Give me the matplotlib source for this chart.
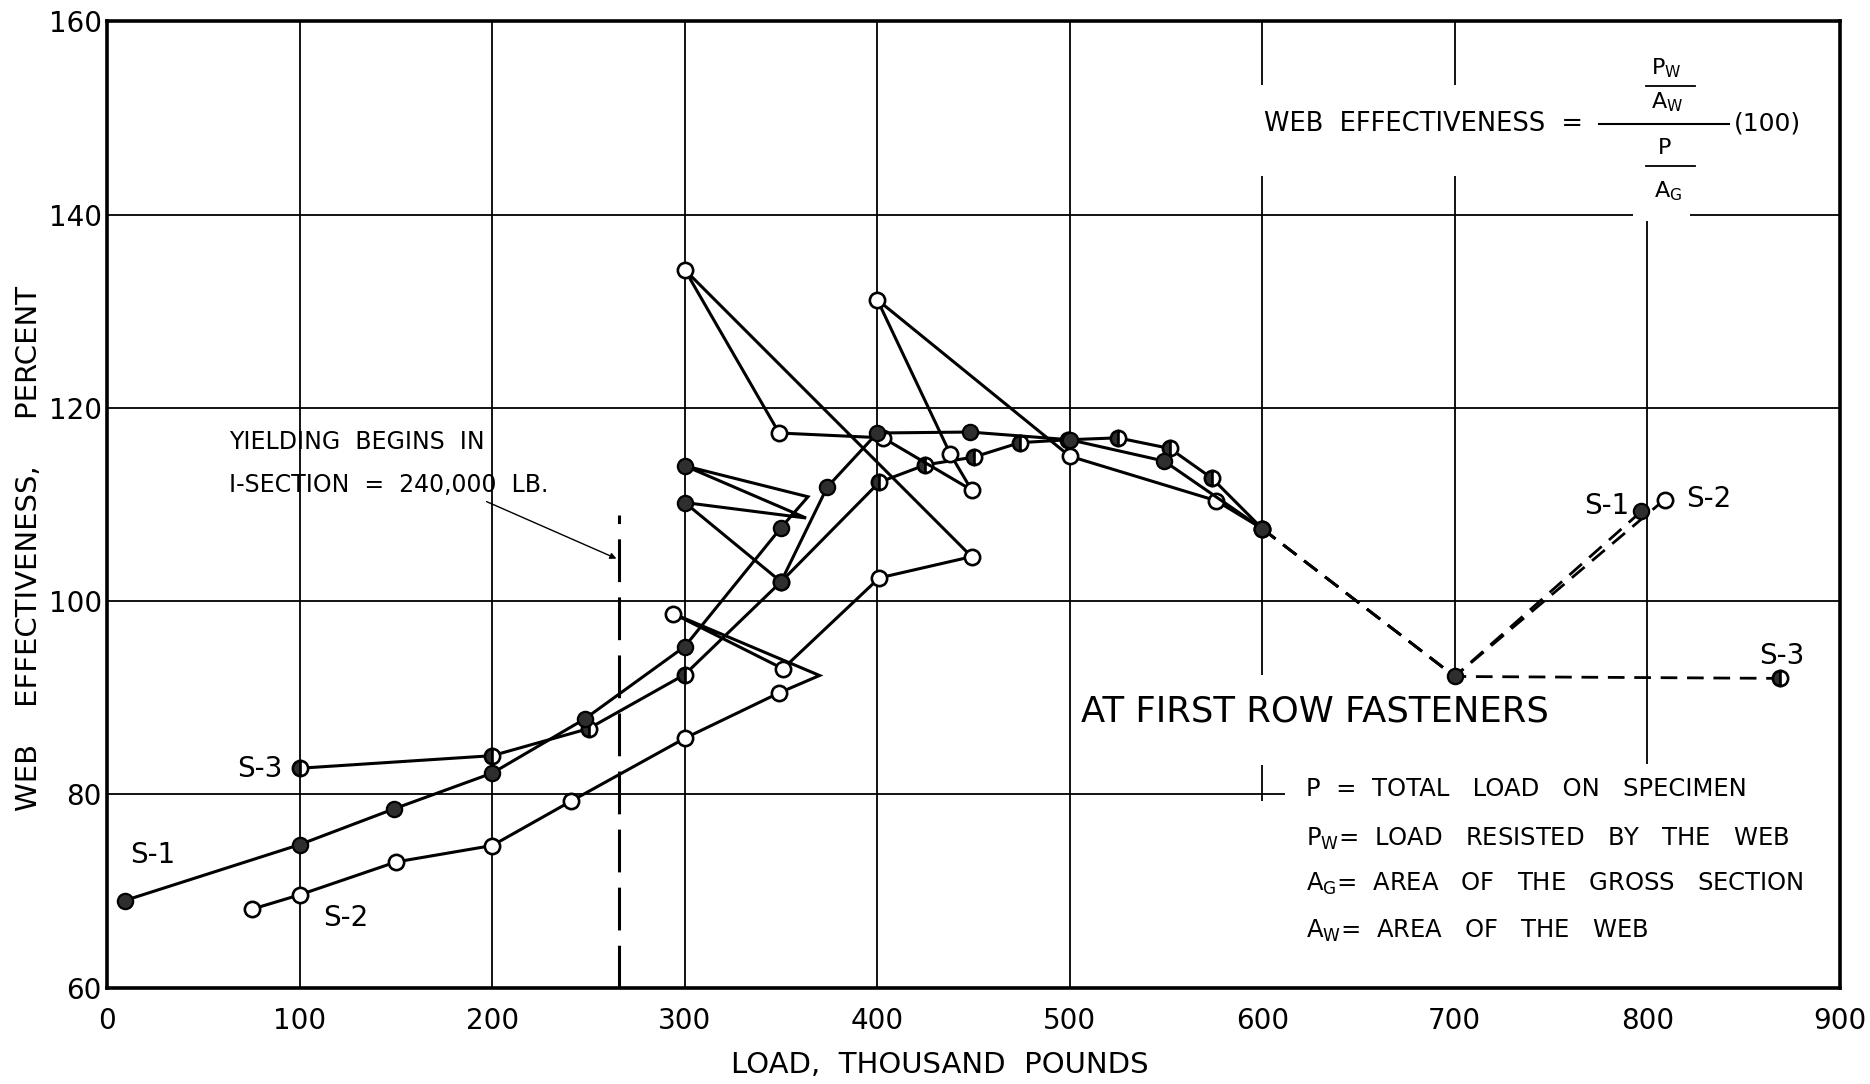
import matplotlib
matplotlib.use("Agg")
import matplotlib.pyplot as plt
from matplotlib.patches import Rectangle

plt.rcParams['font.family'] = ['DejaVu Sans']
plt.rcParams['mathtext.fontset'] = 'dejavusans'

# Specimen S-1 (solid markers); 0 in *_mark means a bend in the line without a marker
s1_load = [9, 100, 149, 200, 248, 300, 350, 364, 300, 363, 300, 350, 374, 400, 448, 500, 549, 600]
s1_eff = [69.0, 74.8, 78.5, 82.2, 87.8, 95.3, 107.6, 110.8, 114.0, 108.6, 110.2, 102.0, 111.8,
          117.4, 117.5, 116.7, 114.5, 107.5]
s1_mark = [1, 1, 1, 1, 1, 1, 1, 0, 1, 0, 1, 1, 1, 1, 1, 1, 1, 1]
s1_ext_load = [600, 700, 797]
s1_ext_eff = [107.5, 92.2, 109.3]

# Specimen S-2 (open markers)
s2_load = [75, 100, 150, 200, 241, 300, 349, 370, 294, 351, 401, 449, 300, 349, 403, 449, 438,
           400, 500, 576, 600]
s2_eff = [68.1, 69.6, 73.0, 74.7, 79.3, 85.8, 90.5, 92.3, 98.7, 93.0, 102.4, 104.6, 134.3, 117.4,
          116.9, 111.5, 115.2, 131.2, 115.0, 110.4, 107.5]
s2_mark = [1, 1, 1, 1, 1, 1, 1, 0, 1, 1, 1, 1, 1, 1, 1, 1, 1, 1, 1, 1, 1]
s2_ext_load = [600, 700, 809]
s2_ext_eff = [107.5, 92.2, 110.5]

# Specimen S-3 (half-filled markers)
s3_load = [100, 200, 250, 300, 350, 401, 425, 450, 474, 499, 525, 552, 574, 600]
s3_eff = [82.7, 84.0, 86.8, 92.4, 102.0, 112.3, 114.1, 114.9, 116.4, 116.7, 116.9, 115.8, 112.7, 107.5]
s3_mark = [1] * len(s3_load)
s3_ext_load = [600, 700, 869]
s3_ext_eff = [107.5, 92.2, 92.0]

yield_load = 266          # dashed marker line for start of yielding
yield_top = 108.9

x_ticks = [0, 100, 200, 300, 400, 500, 600, 700, 800, 900]
y_ticks = [60, 80, 100, 120, 140, 160]

fig = plt.figure(figsize=(18.7, 10.84), dpi=100)
ax = fig.add_axes([0.0574, 0.0890, 0.9264, 0.8912])
ax.set_xlim(0, 900)
ax.set_ylim(60, 160)
ax.set_xticks(x_ticks)
ax.set_yticks(y_ticks)
ax.tick_params(length=0, labelsize=20)
ax.tick_params(axis='x', pad=14)
ax.tick_params(axis='y', pad=4)
ax.grid(True, color='black', lw=1.3, zorder=1)
for sp in ax.spines.values():
    sp.set_linewidth(2.6)
    sp.set_zorder(20)

ax.set_xlabel('LOAD,  THOUSAND  POUNDS', fontsize=21)
ax.xaxis.set_label_coords(0.4807, -0.066)
ax.text(-0.045, 0.454, 'WEB    EFFECTIVENESS,     PERCENT', transform=ax.transAxes,
        rotation=90, ha='center', va='center', fontsize=21)

LW = 2.2
DASH = (0, (6, 3.5))
filled = dict(marker='o', ms=11, mfc='#2e2e2e', mec='black', mew=1.6)
opened = dict(marker='o', ms=11, mfc='white', mec='black', mew=1.9)
halved = dict(marker='o', ms=11, mfc='#2e2e2e', mfcalt='white', fillstyle='left',
              mec='black', mew=1.9)


def draw(load, eff, mark, ext_load, ext_eff, style, z):
    ax.plot(load, eff, color='black', lw=LW, zorder=z, solid_joinstyle='miter')
    ax.plot(ext_load, ext_eff, color='black', lw=2.0, linestyle=DASH, zorder=z)
    ml = [a for a, m in zip(load, mark) if m]
    me = [b for b, m in zip(eff, mark) if m]
    ax.plot(ml, me, linestyle='none', zorder=z + 0.5, **style)
    ax.plot(ext_load[-1:], ext_eff[-1:], linestyle='none', zorder=z + 0.5, **style)


draw(s3_load, s3_eff, s3_mark, s3_ext_load, s3_ext_eff, halved, 5)
draw(s2_load, s2_eff, s2_mark, s2_ext_load, s2_ext_eff, opened, 7)
draw(s1_load, s1_eff, s1_mark, s1_ext_load, s1_ext_eff, filled, 9)
ax.plot(s1_ext_load[1:2], s1_ext_eff[1:2], linestyle='none', zorder=9.5, **filled)

# yielding line and note
ax.plot([yield_load, yield_load], [60, yield_top], color='black', lw=2.2,
        linestyle=(0, (14, 5)), zorder=4)
ax.text(63, 116.5, 'YIELDING  BEGINS  IN', fontsize=17, va='center', ha='left')
ax.text(63, 112.0, 'I-SECTION  =  240,000  LB.', fontsize=17, va='center', ha='left')
ax.annotate('', xy=(264.5, 104.4), xytext=(197, 110.3),
            arrowprops=dict(arrowstyle='-|>', lw=1.0, color='black', mutation_scale=9,
                            shrinkA=0, shrinkB=0))

# specimen labels
for txt, x, y in [('S-1', 23.5, 73.7), ('S-2', 124, 67.2), ('S-3', 79, 82.6),
                  ('S-1', 779, 109.8), ('S-2', 832, 110.6), ('S-3', 870, 94.3)]:
    ax.text(x, y, txt, fontsize=20, ha='center', va='center', zorder=12)

# formula block (white ground hides the grid behind it)
ax.add_patch(Rectangle((597, 144.0), 287, 9.4, facecolor='white', edgecolor='none', zorder=3))
ax.add_patch(Rectangle((792.5, 139.3), 29.5, 20.7, facecolor='white', edgecolor='none', zorder=3))
ax.text(601, 149.4, 'WEB  EFFECTIVENESS  =', fontsize=18.5, ha='left', va='center', zorder=6)
ax.plot([775, 842.5], [149.4, 149.4], color='black', lw=1.5, zorder=6)
ax.text(845, 149.4, '(100)', fontsize=18, ha='left', va='center', zorder=6)
ax.text(810, 155.2, r'P$_\mathregular{W}$', fontsize=16, ha='center', va='center', zorder=6)
ax.plot([799.5, 825], [153.3, 153.3], color='black', lw=1.3, zorder=6)
ax.text(810.5, 151.6, r'A$_\mathregular{W}$', fontsize=16, ha='center', va='center', zorder=6)
ax.text(809, 146.9, 'P', fontsize=16, ha='center', va='center', zorder=6)
ax.plot([799.5, 825], [145.0, 145.0], color='black', lw=1.3, zorder=6)
ax.text(811, 142.4, r'A$_\mathregular{G}$', fontsize=16, ha='center', va='center', zorder=6)

# title inside the plot and symbol legend, each on a white ground
ax.add_patch(Rectangle((503, 83.0), 249, 9.3, facecolor='white', edgecolor='none', zorder=3))
ax.text(506, 88.6, 'AT FIRST ROW FASTENERS', fontsize=25.5, ha='left', va='center', zorder=6)
ax.add_patch(Rectangle((598, 60), 302, 19.3, facecolor='white', edgecolor='none', zorder=3))
ax.add_patch(Rectangle((612, 79.2), 288, 3.9, facecolor='white', edgecolor='none', zorder=3))
legend_lines = [
    (80.5, 'P  =  TOTAL   LOAD   ON   SPECIMEN'),
    (75.4, r'P$_\mathregular{W}$=  LOAD   RESISTED   BY   THE   WEB'),
    (70.7, r'A$_\mathregular{G}$=  AREA   OF   THE   GROSS   SECTION'),
    (65.9, r'A$_\mathregular{W}$=  AREA   OF   THE   WEB'),
]
for y, txt in legend_lines:
    ax.text(622.5, y, txt, fontsize=17.5, ha='left', va='center', zorder=6)

fig.savefig('out.png', dpi=100)
